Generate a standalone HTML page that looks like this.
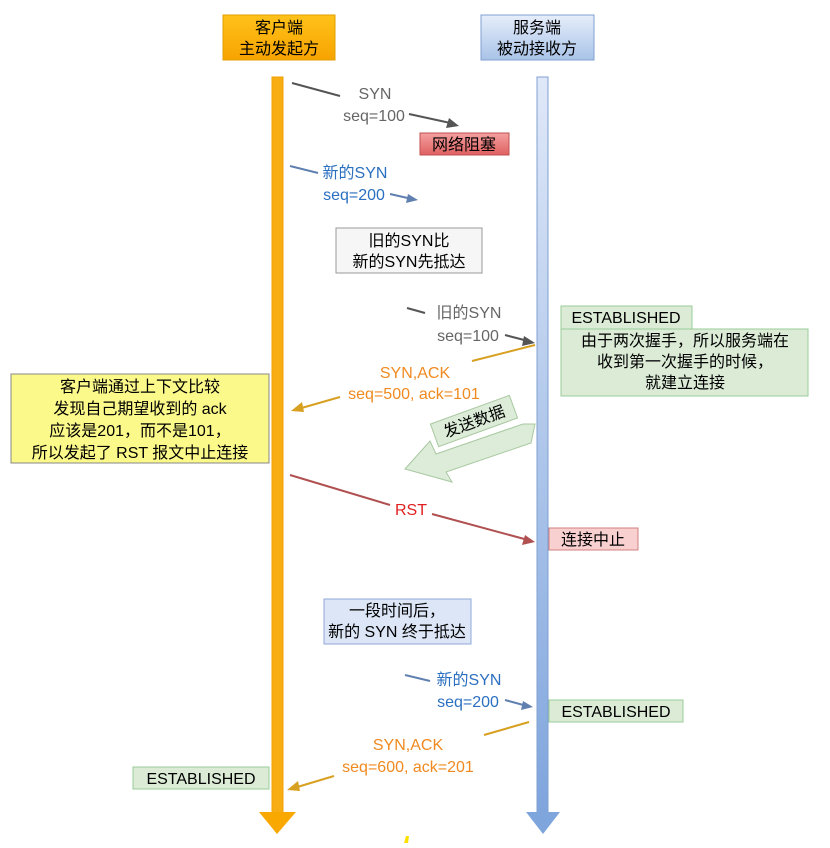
<!DOCTYPE html>
<html><head><meta charset="utf-8"><style>
body{margin:0;background:#fff}
svg text{font-family:"Liberation Sans","Noto Sans CJK SC",sans-serif;font-size:16px}
</style></head><body>
<svg width="830" height="843" viewBox="0 0 830 843" xmlns="http://www.w3.org/2000/svg">
<defs>
<linearGradient id="og" x1="0" y1="0" x2="0" y2="1"><stop offset="0" stop-color="#ffc21a"/><stop offset="1" stop-color="#f7a300"/></linearGradient>
<linearGradient id="bg" x1="0" y1="0" x2="0" y2="1"><stop offset="0" stop-color="#e6eefa"/><stop offset="1" stop-color="#a9c3e8"/></linearGradient>
<linearGradient id="rg" x1="0" y1="0" x2="0" y2="1"><stop offset="0" stop-color="#f4a0a0"/><stop offset="1" stop-color="#e06060"/></linearGradient>
<linearGradient id="vb" x1="0" y1="0" x2="0" y2="1"><stop offset="0" stop-color="#dfe8f8"/><stop offset="1" stop-color="#7fa5dd"/></linearGradient>
</defs>
<rect x="223" y="15" width="112" height="45" fill="url(#og)" stroke="#e0a000"/>
<text x="279" y="33" text-anchor="middle">客户端</text>
<text x="279" y="54" text-anchor="middle">主动发起方</text>
<rect x="481" y="15" width="113" height="45" fill="url(#bg)" stroke="#7fa0d0"/>
<text x="537" y="33" text-anchor="middle">服务端</text>
<text x="537" y="54" text-anchor="middle">被动接收方</text>
<rect x="272" y="77" width="11" height="736" fill="#f9ad14" stroke="#f0a000"/>
<polygon points="259,812 296,812 277,834" fill="#f9a800"/>
<rect x="537" y="77" width="11" height="736" fill="url(#vb)" stroke="#7fa0d0"/>
<polygon points="526,812 560,812 543,834" fill="#7fa5dd"/>
<line x1="292" y1="83" x2="340" y2="96" stroke="#555" stroke-width="2"/>
<text x="375" y="99" text-anchor="middle" fill="#666">SYN</text>
<text x="374" y="121" text-anchor="middle" fill="#666">seq=100</text>
<line x1="409" y1="114" x2="455" y2="124" stroke="#555" stroke-width="2"/>
<polygon points="459,126 446,128 449,118" fill="#555"/>
<rect x="420" y="133" width="89" height="22" fill="url(#rg)" stroke="#c05050"/>
<text x="464" y="150" text-anchor="middle">网络阻塞</text>
<line x1="290" y1="166" x2="318" y2="173" stroke="#6080b0" stroke-width="2"/>
<text x="355" y="178" text-anchor="middle" fill="#2a6fc0">新的SYN</text>
<text x="354" y="200" text-anchor="middle" fill="#2a6fc0">seq=200</text>
<line x1="390" y1="194" x2="412" y2="199" stroke="#6080b0" stroke-width="2"/>
<polygon points="418,200 406,203 408,194" fill="#6080b0"/>
<rect x="336" y="228" width="146" height="45" fill="#f6f6f6" stroke="#999"/>
<text x="409" y="246" text-anchor="middle">旧的SYN比</text>
<text x="409" y="267" text-anchor="middle">新的SYN先抵达</text>
<line x1="407" y1="308" x2="425" y2="313" stroke="#555" stroke-width="2"/>
<text x="469" y="318" text-anchor="middle" fill="#666">旧的SYN</text>
<text x="468" y="341" text-anchor="middle" fill="#666">seq=100</text>
<line x1="505" y1="335" x2="528" y2="341" stroke="#555" stroke-width="2"/>
<polygon points="535,343 522,346 524,336" fill="#555"/>
<rect x="561" y="306" width="131" height="23" fill="#dbebd6" stroke="#9c9"/>
<text x="626" y="323" text-anchor="middle">ESTABLISHED</text>
<rect x="561" y="329" width="247" height="67" fill="#dbebd6" stroke="#9c9"/>
<text x="685" y="346" text-anchor="middle">由于两次握手，所以服务端在</text>
<text x="685" y="367" text-anchor="middle">收到第一次握手的时候，</text>
<text x="685" y="388" text-anchor="middle">就建立连接</text>
<line x1="535" y1="345" x2="472" y2="361" stroke="#d8a020" stroke-width="2"/>
<text x="415" y="378" text-anchor="middle" fill="#f08a20">SYN,ACK</text>
<text x="414" y="399" text-anchor="middle" fill="#f08a20">seq=500, ack=101</text>
<line x1="340" y1="397" x2="298" y2="409" stroke="#d8a020" stroke-width="2"/>
<polygon points="291,411 302,402 304,412" fill="#d8a020"/>
<rect x="11" y="374" width="258" height="89" fill="#fbf98a" stroke="#888"/>
<text x="140" y="392" text-anchor="middle">客户端通过上下文比较</text>
<text x="140" y="414" text-anchor="middle">发现自己期望收到的 ack</text>
<text x="140" y="436" text-anchor="middle">应该是201，而不是101，</text>
<text x="140" y="458" text-anchor="middle">所以发起了 RST 报文中止连接</text>
<polygon points="535,424 531,443 446,472 452,482 405,469 430,441 436,454 523,424" fill="#dcecd8" stroke="#a8c8a0"/>
<g transform="rotate(-20 474 421)">
<rect x="432" y="409" width="84" height="24" fill="#dcecd8" stroke="#a8c8a0"/>
<text x="474" y="427" text-anchor="middle">发送数据</text>
</g>
<line x1="290" y1="475" x2="390" y2="505" stroke="#b05050" stroke-width="2"/>
<text x="411" y="515" text-anchor="middle" fill="#e02020">RST</text>
<line x1="432" y1="514" x2="528" y2="540" stroke="#b05050" stroke-width="2"/>
<polygon points="535,542 522,545 525,535" fill="#b05050"/>
<rect x="549" y="528" width="89" height="22" fill="#f8d0d0" stroke="#d08080"/>
<text x="593" y="545" text-anchor="middle">连接中止</text>
<rect x="324" y="599" width="147" height="45" fill="#dce6f6" stroke="#8fa8d8"/>
<text x="397" y="616" text-anchor="middle">一段时间后，</text>
<text x="397" y="637" text-anchor="middle">新的 SYN 终于抵达</text>
<line x1="405" y1="675" x2="430" y2="681" stroke="#6080b0" stroke-width="2"/>
<text x="469" y="685" text-anchor="middle" fill="#2a6fc0">新的SYN</text>
<text x="468" y="707" text-anchor="middle" fill="#2a6fc0">seq=200</text>
<line x1="505" y1="700" x2="527" y2="706" stroke="#6080b0" stroke-width="2"/>
<polygon points="533,707 521,710 523,701" fill="#6080b0"/>
<rect x="549" y="700" width="134" height="22" fill="#dbebd6" stroke="#9c9"/>
<text x="616" y="717" text-anchor="middle">ESTABLISHED</text>
<line x1="529" y1="722" x2="484" y2="735" stroke="#d8a020" stroke-width="2"/>
<text x="408" y="750" text-anchor="middle" fill="#f08a20">SYN,ACK</text>
<text x="408" y="772" text-anchor="middle" fill="#f08a20">seq=600, ack=201</text>
<line x1="334" y1="776" x2="294" y2="788" stroke="#d8a020" stroke-width="2"/>
<polygon points="287,790 298,781 300,791" fill="#d8a020"/>
<rect x="133" y="767" width="136" height="22" fill="#dbebd6" stroke="#9c9"/>
<text x="201" y="784" text-anchor="middle">ESTABLISHED</text>
<path d="M404,843 L406,836 L409,836 L408,843 Z" fill="#ffe000"/>
</svg>
</body></html>
